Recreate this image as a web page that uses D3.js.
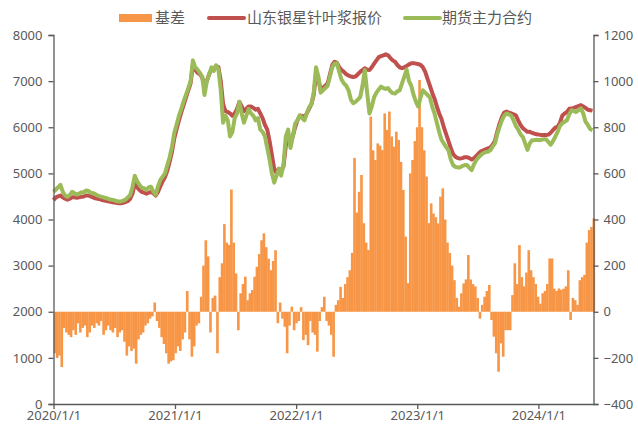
<!DOCTYPE html>
<html>
<head>
<meta charset="utf-8">
<script src="https://cdn.jsdelivr.net/npm/d3@7"></script>
<style>
  html, body { margin: 0; padding: 0; background: #fff; }
  #viz { width: 638px; height: 427px; }
  text { font-family: "Noto Sans", "Liberation Sans", sans-serif; }
</style>
</head>
<body>
<div id="viz"></div>
<script>
// -----------------------------
// DATA (weekly readings from 2020/1/1)
// -----------------------------
const seriesNames = ["基差", "山东银星针叶浆报价", "期货主力合约"];
const yLeftTicks = [0, 1000, 2000, 3000, 4000, 5000, 6000, 7000, 8000];
const yRightTicks = [-400, -200, 0, 200, 400, 600, 800, 1000, 1200];
const xTickLabels = ["2020/1/1", "2021/1/1", "2022/1/1", "2023/1/1", "2024/1/1"];

// 期货主力合约
const futures = [
  4600,4650,4700,4750,4600,4520,4490,4530,4600,4570,
  4540,4560,4590,4580,4630,4620,4580,4570,4550,4520,
  4500,4490,4470,4460,4440,4430,4420,4400,4390,4390,
  4410,4430,4480,4530,4700,4950,4830,4750,4690,4680,
  4640,4700,4710,4600,4540,4720,4860,4930,5000,5180,
  5350,5580,5880,6060,6250,6400,6560,6700,6850,7000,
  7450,7300,7250,7180,7100,6700,7000,7150,7300,7220,
  7340,7250,6800,6100,6250,6150,5800,5900,6200,6300,
  6550,6300,6100,6250,6400,6300,6250,6150,6200,5950,
  5900,5800,5550,5300,5000,4800,4950,5100,4950,5200,
  5800,5950,5550,5800,6080,6150,6260,6200,6150,6300,
  6430,6500,6750,7300,7100,6750,6800,6850,6900,7100,
  7300,7380,7390,7200,7030,6950,6900,6800,6600,6520,
  6550,6600,6650,6900,7240,6750,6300,6450,6650,6750,
  6820,6880,6850,6830,6850,6780,6740,6730,6780,6800,
  6950,7100,7250,7000,6900,6700,6550,6450,6650,6800,
  6750,6700,6650,6450,6300,6100,5900,5730,5650,5570,
  5500,5300,5180,5140,5130,5130,5160,5180,5180,5120,
  5070,5200,5290,5350,5400,5440,5460,5470,5500,5580,
  5650,5850,6010,6150,6250,6300,6280,6250,6150,6030,
  5950,5850,5790,5650,5510,5650,5720,5720,5730,5720,
  5730,5740,5740,5680,5620,5700,5800,5900,6030,6090,
  6120,6150,6280,6370,6350,6330,6370,6410,6300,6120,
  6050,5960,5940
];

// 山东银星针叶浆报价
const spot = [
  4420,4480,4500,4520,4480,4450,4430,4450,4480,4480,
  4470,4480,4490,4500,4520,4520,4500,4480,4460,4450,
  4440,4420,4410,4400,4390,4380,4370,4360,4350,4350,
  4360,4380,4400,4450,4560,4780,4700,4640,4600,4580,
  4560,4580,4600,4570,4520,4600,4720,4830,4920,5060,
  5250,5470,5760,5960,6150,6320,6480,6640,6800,6950,
  7350,7250,7180,7150,7080,6900,7000,7150,7250,7250,
  7330,7300,7000,6500,6350,6330,6300,6250,6300,6400,
  6550,6450,6350,6400,6450,6450,6420,6380,6400,6300,
  6200,6050,5950,5700,5400,5100,5000,5100,5050,5150,
  5600,5750,5700,5800,6000,6150,6250,6250,6200,6300,
  6400,6500,6700,7150,7050,6800,6850,6900,6950,7150,
  7350,7420,7400,7300,7240,7200,7150,7120,7100,7090,
  7100,7150,7200,7240,7280,7250,7240,7300,7380,7450,
  7520,7540,7560,7580,7560,7500,7450,7420,7350,7300,
  7280,7300,7330,7360,7390,7390,7380,7370,7350,7300,
  7200,7050,6900,6750,6620,6450,6300,6180,6000,5850,
  5700,5550,5420,5360,5330,5320,5330,5350,5350,5330,
  5300,5330,5380,5430,5480,5500,5520,5540,5560,5620,
  5700,5900,6080,6220,6320,6340,6320,6300,6280,6260,
  6150,6050,5980,5940,5900,5900,5880,5860,5850,5840,
  5830,5830,5830,5840,5880,5940,5990,6010,6100,6250,
  6300,6330,6400,6410,6420,6440,6460,6480,6450,6420,
  6380,6370,6360
];

// 基差 (right axis)
const basis = [
  -180,-200,-190,-240,-70,-90,-100,-110,-80,-100,
  -50,-90,-70,-60,-110,-90,-60,-70,-50,-60,
  -40,-100,-80,-60,-80,-90,-70,-110,-90,-80,
  -130,-190,-150,-170,-160,-225,-120,-100,-90,-60,
  -50,-30,-20,40,-40,-70,-110,-140,-180,-225,
  -215,-210,-180,-150,-170,-120,-90,90,-120,-195,
  -150,-60,-50,65,200,310,240,-90,60,70,
  -180,150,210,380,300,290,530,300,166,-80,
  80,120,152,50,80,94,152,195,250,310,
  340,280,230,180,220,267,-50,40,-30,-65,
  -180,-60,22,-80,-50,-40,20,-123,-100,-145,
  -40,-90,-100,-173,-40,20,65,-40,-60,-100,
  -195,30,50,108,60,120,150,180,255,667,
  430,520,593,384,300,268,846,700,658,730,
  720,701,860,788,868,760,716,781,745,650,
  528,326,124,600,658,740,800,1005,800,700,
  586,384,470,426,410,383,499,535,400,300,
  255,200,137,60,22,80,123,140,246,140,
  120,110,60,-30,30,65,90,116,-36,-108,
  -180,-260,-137,-195,-80,-80,-80,72,210,120,
  289,150,110,170,267,180,150,120,65,35,
  80,90,120,231,231,100,90,101,95,100,
  110,180,-36,60,50,30,137,150,160,300,
  354,368,405
];

const startDate = new Date(2020, 0, 1);
const endDate = new Date(2024, 5, 15);
const dates = futures.map((_, i) => d3.timeDay.offset(startDate, i * 7));

// -----------------------------
// LAYOUT
// -----------------------------
const W = 638, H = 427;
const mLeft = 53.5, mRight = 593.5, mTop = 35, mBottom = 404;
const axisColor = "#595959";
const labelColor = "#595959";

const svg = d3.select("#viz")
  .append("svg")
  .attr("width", W)
  .attr("height", H);

const x = d3.scaleTime().domain([startDate, endDate]).range([mLeft, mRight]);
const yL = d3.scaleLinear().domain([0, 8000]).range([mBottom, mTop]);
const yR = d3.scaleLinear().domain([-400, 1200]).range([mBottom, mTop]);

// -----------------------------
// BARS (basis)
// -----------------------------
svg.append("g")
  .selectAll("rect")
  .data(basis)
  .join("rect")
  .attr("x", (d, i) => x(dates[i]))
  .attr("width", (d, i) => x(d3.timeDay.offset(dates[i], 7)) - x(dates[i]) + 0.3)
  .attr("y", d => Math.min(yR(d), yR(0)))
  .attr("height", d => Math.abs(yR(d) - yR(0)))
  .attr("fill", "#F79646");

// -----------------------------
// LINES
// -----------------------------
const line = arr => d3.line()
  .x((d, i) => x(dates[i]))
  .y(d => yL(d))(arr);

svg.append("path")
  .attr("d", line(spot))
  .attr("fill", "none")
  .attr("stroke", "#C0504D")
  .attr("stroke-width", 4)
  .attr("stroke-linejoin", "round");

svg.append("path")
  .attr("d", line(futures))
  .attr("fill", "none")
  .attr("stroke", "#9BBB59")
  .attr("stroke-width", 4)
  .attr("stroke-linejoin", "round");

// -----------------------------
// AXES
// -----------------------------
function styleAxis(g) {
  g.select(".domain").attr("stroke", axisColor).attr("stroke-width", 1.3);
  g.selectAll(".tick line").attr("stroke", axisColor).attr("stroke-width", 1.3);
  g.selectAll(".tick text")
    .attr("fill", labelColor)
    .style("font-size", "13px")
    .style("font-family", "'Noto Sans', sans-serif");
}

svg.append("g")
  .attr("transform", `translate(${mLeft},0)`)
  .call(d3.axisLeft(yL).tickValues(yLeftTicks).tickSize(5).tickSizeOuter(5).tickPadding(6).tickFormat(d3.format("d")))
  .call(styleAxis);

svg.append("g")
  .attr("transform", `translate(${mRight},0)`)
  .call(d3.axisRight(yR).tickValues(yRightTicks).tickSize(5).tickSizeOuter(5).tickPadding(5).tickFormat(d3.format("d")))
  .call(styleAxis);

const xTicks = xTickLabels.map(s => d3.timeParse("%Y/%-m/%-d")(s));
svg.append("g")
  .attr("transform", `translate(0,${mBottom})`)
  .call(d3.axisBottom(x).tickValues(xTicks).tickSize(5).tickSizeOuter(0).tickPadding(2)
    .tickFormat((d, i) => xTickLabels[i]))
  .call(styleAxis);

// -----------------------------
// LEGEND
// -----------------------------
const legend = svg.append("g").attr("class", "legend");
const ly = 18;
const legendItems = [
  { name: seriesNames[0], color: "#F79646", type: "rect", x: 119, tx: 155 },
  { name: seriesNames[1], color: "#C0504D", type: "line", x: 209, tx: 247 },
  { name: seriesNames[2], color: "#9BBB59", type: "line", x: 405, tx: 442 }
];

legendItems.forEach(it => {
  if (it.type === "rect") {
    legend.append("rect")
      .attr("x", it.x).attr("y", ly - 4)
      .attr("width", 33).attr("height", 8)
      .attr("fill", it.color);
  } else {
    legend.append("line")
      .attr("x1", it.x).attr("x2", it.x + 35)
      .attr("y1", ly).attr("y2", ly)
      .attr("stroke", it.color)
      .attr("stroke-width", 4)
      .attr("stroke-linecap", "round");
  }
  legend.append("text")
    .attr("x", it.tx).attr("y", ly)
    .attr("dy", "0.36em")
    .attr("fill", labelColor)
    .style("font-family", "'Noto Sans CJK SC', sans-serif")
    .style("font-size", "15px")
    .text(it.name);
});
</script>
</body>
</html>
